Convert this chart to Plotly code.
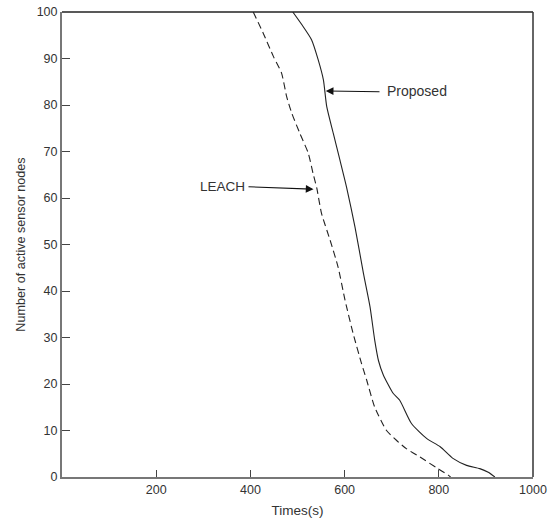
import plotly.graph_objects as go

# Data
proposed_x = [490, 509, 530, 544, 555, 562, 576, 590, 604, 622, 640, 654, 664, 672, 682, 703, 717, 742, 774, 803, 830, 859, 887, 905, 919]
proposed_y = [100, 97.3, 94, 89.7, 85.4, 79.7, 73.9, 68.2, 62.4, 53.8, 43.8, 36.6, 29.4, 25, 22, 18, 16.5, 11.5, 8.3, 6.5, 4, 2.5, 1.8, 1, 0]

leach_x = [406, 427, 449, 466, 477, 488, 505, 523, 533, 541, 551, 569, 586, 601, 618, 636, 647, 664, 689, 710, 731, 760, 795, 820, 825]
leach_y = [100, 95.5, 90.4, 86.9, 81.8, 78.2, 73.9, 69.6, 65.3, 62.1, 56.7, 51, 45.2, 38, 30.9, 24.4, 20.8, 15, 10, 7.9, 6.1, 4.3, 2, 0.4, 0]

x_ticks = [200, 400, 600, 800, 1000]
y_ticks = [0, 10, 20, 30, 40, 50, 60, 70, 80, 90, 100]

font_family = "Liberation Sans, Arial, sans-serif"
txt_color = "#333333"

L, R, T, B = 62, 22, 12, 45
W, H = 555, 522
pw = W - L - R
ph = H - T - B

fig = go.Figure()
fig.add_trace(go.Scatter(x=proposed_x, y=proposed_y, mode="lines", line_shape="spline",
                         line=dict(color="#222222", width=1.1, smoothing=0.6), name="Proposed"))
fig.add_trace(go.Scatter(x=leach_x, y=leach_y, mode="lines", line_shape="spline",
                         line=dict(color="#222222", width=1.1, dash="7px,4px", smoothing=0.6), name="LEACH"))

def head_px(xv, yv):
    return L + xv / 1000 * pw, T + (1 - yv / 100) * ph

def px_to_paper(px, py):
    return (px - L) / pw, 1 - (py - T) / ph

# arrows (tail given in pixels, converted to offsets from head)
for hx_d, hy_d, tx, ty in [(560, 83, 381, 91.7), (534, 61.9, 247, 186.7)]:
    hx, hy = head_px(hx_d, hy_d)
    fig.add_annotation(x=hx_d, y=hy_d, ax=tx - hx, ay=ty - hy,
                       text="", showarrow=True, arrowhead=2, arrowsize=1.4, arrowwidth=1.1,
                       arrowcolor="#111111")

# labels
for txt, px, py, anchor, fs in [("Proposed", 385, 91.5, "left", 14), ("LEACH", 247, 186.5, "right", 13.5)]:
    xp, yp = px_to_paper(px, py)
    fig.add_annotation(x=xp, y=yp, xref="paper", yref="paper", text=txt, showarrow=False,
                       xanchor=anchor, yanchor="middle", font=dict(size=fs, color=txt_color))

fig.update_layout(
    width=W, height=H,
    margin=dict(l=L, r=R, t=T, b=B),
    paper_bgcolor="white", plot_bgcolor="white",
    showlegend=False,
    font=dict(family=font_family, size=12, color=txt_color),
    xaxis=dict(range=[0, 1000], tickvals=x_ticks, ticktext=[str(v) for v in x_ticks],
               ticks="inside", ticklen=7, tickwidth=1.2, tickcolor="#444444",
               showline=True, linecolor="#777777", linewidth=2,
               showgrid=False, zeroline=False, automargin=False,
               title=dict(text="Times(s)", font=dict(size=13.5, color=txt_color), standoff=10),
               tickfont=dict(size=12.5, color=txt_color)),
    yaxis=dict(range=[0, 100], tickvals=y_ticks,
               ticks="inside", ticklen=8, tickwidth=1.2, tickcolor="#444444",
               showline=True, linecolor="#777777", linewidth=2,
               showgrid=False, zeroline=False, automargin=False,
               title=dict(text="Number of active sensor nodes", font=dict(size=12.6, color=txt_color), standoff=8),
               tickfont=dict(size=12.5, color=txt_color)),
)

# top and right frame
fig.add_shape(type="line", xref="paper", yref="paper", x0=0, x1=1, y0=1, y1=1,
              line=dict(color="#222222", width=1.5))
fig.add_shape(type="line", xref="paper", yref="paper", x0=1, x1=1, y0=0, y1=1,
              line=dict(color="#333333", width=1.5))

fig.write_html("out.html", config={"displayModeBar": False},
               post_script="document.body.style.margin='0';document.body.style.overflow='hidden';")
